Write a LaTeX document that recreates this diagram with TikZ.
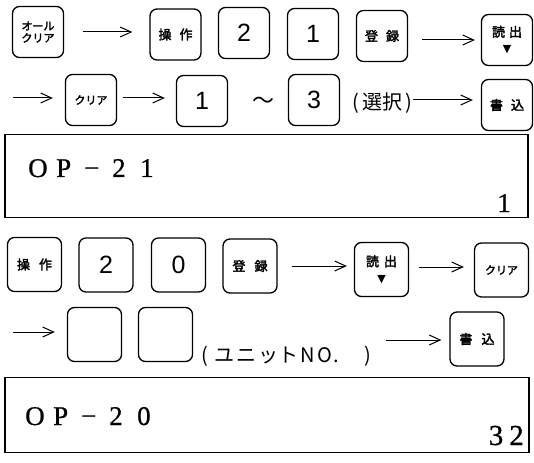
\documentclass[tikz,border=0pt]{standalone}
\usepackage{fontspec}
\setmainfont{Liberation Serif}
\newfontfamily\jp{Noto Sans CJK JP}
\newfontfamily\jpk{Noto Sans CJK JP}[FakeBold=2.5]
\newfontfamily\dig{Liberation Sans}
\newfontfamily\sym{DejaVu Sans}
\newfontfamily\dsp{Liberation Serif}[FakeBold=0.8]
\usetikzlibrary{arrows.meta}
\newcommand{\tri}{{\sym\fontsize{11}{11}\selectfont ▼}}
\newcommand{\mc}[1]{\makebox[28pt][l]{#1}}
\begin{document}
\begin{tikzpicture}[x=1pt,y=-1pt,
  key/.style={draw, rounded corners=7pt, line width=1.3pt, minimum width=51pt, minimum height=51pt, inner sep=0pt, align=center, font=\jpk\fontsize{13}{14}\selectfont},
  bigkey/.style={key, minimum width=54pt, minimum height=54pt},
  numkey/.style={key, font=\dig\fontsize{25}{25}\selectfont},
  bignumkey/.style={bigkey, font=\dig\fontsize{25}{25}\selectfont},
  arr/.style={-{Straight Barb[length=11pt,width=10pt,line width=1pt]}, line width=1pt},
  disp/.style={draw, line width=1.3pt},
  dtxt/.style={inner sep=0pt, font=\dsp\fontsize{27}{27}\selectfont},
  jtxt/.style={inner sep=0pt, font=\jp\fontsize{20}{20}\selectfont}
]
\useasboundingbox (0,0) rectangle (534,462);
% row 1
\node[key, font=\jpk\fontsize{11}{12}\selectfont] (k1) at (38,32) {オール\\[0pt]クリア};
\node[key] (k2) at (175.5,34.5) {操\hspace{8pt}作};
\node[numkey] (k3) at (244,33) {2};
\node[numkey] (k4) at (313,34) {1};
\node[key] (k5) at (382,36) {登\hspace{8pt}録};
\node[key] (k6) at (507,40) {読\hspace{4pt}出\\[2pt]\tri};
\draw[arr, shorten <=19pt, shorten >=17pt] (k1.east) -- (k2.west |- k1.east);
\draw[arr, shorten <=14pt, shorten >=6pt] (k5.east |- k6.west) -- (k6.west);
% row 2
\coordinate (s2) at (13,98);
\node[key, font=\jpk\fontsize{11}{12}\selectfont] (k7) at (91,100) {クリア};
\node[numkey] (k8) at (202,101) {1};
\node[jtxt, font=\jp\fontsize{22}{22}\selectfont] (til) at (263,103) {〜};
\node[numkey] (k9) at (314,100) {3};
\node[jtxt] (sel) at (382,103) {(\hspace{3pt}選択\hspace{3pt})};
\node[key] (k10) at (507,105) {書\hspace{8pt}込};
\draw[arr, shorten >=12pt] (s2) -- (k7.west |- s2);
\draw[arr, shorten <=6pt, shorten >=11pt] (k7.east |- s2) -- (k8.west |- s2);
\draw[arr, shorten <=1pt, shorten >=8pt] (sel.east |- 0,100) -- (k10.west |- 0,100);
% display 1
\node[disp, minimum width=523pt, minimum height=83pt, inner sep=0pt] (d1) at (266.5,176) {};
\node[dtxt, anchor=base west] (op1) at (28,177) {\mc{O}\mc{P}\mc{\char"2212}\mc{2}\mc{1}};
\node[dtxt, anchor=base east] (n1) at (511,212) {1};
% row 3
\node[bigkey] (k11) at (34.5,264.5) {操\hspace{9pt}作};
\node[bignumkey] (k12) at (106,265) {2};
\node[bignumkey] (k13) at (178.5,265) {0};
\node[bigkey] (k14) at (250,266) {登\hspace{9pt}録};
\node[bigkey] (k15) at (381.5,269.5) {読\hspace{5pt}出\\[2pt]\tri};
\node[bigkey, font=\jpk\fontsize{11}{12}\selectfont] (k16) at (501.5,270) {クリア};
\draw[arr, shorten <=14pt, shorten >=7pt] (k14.east |- 0,266) -- (k15.west |- 0,266);
\draw[arr, shorten <=10pt, shorten >=10pt] (k15.east |- 0,267) -- (k16.west |- 0,267);
% row 4
\coordinate (s4) at (13,332);
\node[bigkey] (k17) at (94.5,334.5) {};
\node[bigkey] (k18) at (165.5,334.5) {};
\node[jtxt, anchor=base west] (uni) at (201,362) {(\hspace{7pt}ユ\hspace{2pt}ニ\hspace{2pt}ット\hspace{2pt}N\hspace{2pt}O\hspace{1pt}.\hspace{26pt})};
\node[bigkey] (k19) at (477,339) {書\hspace{9pt}込};
\draw[arr, shorten <=14pt, shorten >=8pt] (uni.east |- 0,340) -- (k19.west |- 0,340);
\draw[arr, shorten >=12pt] (s4) -- (k17.west |- s4);
% display 2
\node[disp, minimum width=524pt, minimum height=75pt, inner sep=0pt] (d2) at (267,415) {};
\node[dtxt, anchor=base west] (op2) at (25,425) {\mc{O}\mc{P}\mc{\char"2212}\mc{2}\mc{0}};
\node[dtxt, anchor=base east, font=\dsp\fontsize{29}{29}\selectfont] (n2) at (524,445) {3\hspace{6pt}2};
\end{tikzpicture}
\end{document}
